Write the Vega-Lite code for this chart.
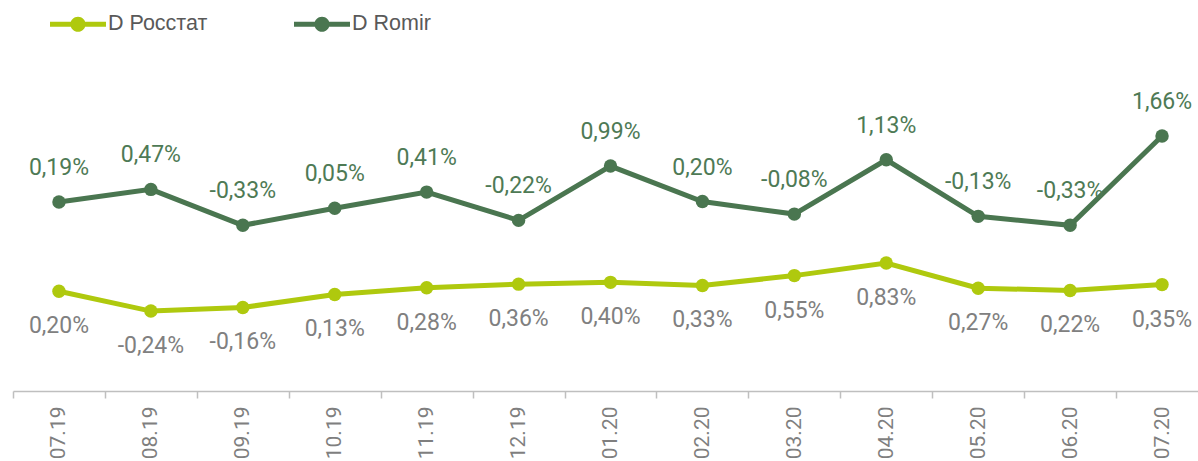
{
  "$schema": "https://vega.github.io/schema/vega-lite/v6.json",
  "width": 1195,
  "height": 391,
  "padding": {"left": 13, "top": 0, "right": 0, "bottom": 70},
  "autosize": {"type": "none"},
  "background": "white",
  "config": {
    "view": {"stroke": null},
    "locale": {"number": {"decimal": ",", "thousands": " ", "grouping": [3], "currency": ["", ""], "minus": "-"}},
    "font": "Roboto"
  },
  "data": {
    "values": [
      {"m": "07.19", "s": "D Росстат", "v": 0.0020},
      {"m": "08.19", "s": "D Росстат", "v": -0.0024},
      {"m": "09.19", "s": "D Росстат", "v": -0.0016},
      {"m": "10.19", "s": "D Росстат", "v": 0.0013},
      {"m": "11.19", "s": "D Росстат", "v": 0.0028},
      {"m": "12.19", "s": "D Росстат", "v": 0.0036},
      {"m": "01.20", "s": "D Росстат", "v": 0.0040},
      {"m": "02.20", "s": "D Росстат", "v": 0.0033},
      {"m": "03.20", "s": "D Росстат", "v": 0.0055},
      {"m": "04.20", "s": "D Росстат", "v": 0.0083},
      {"m": "05.20", "s": "D Росстат", "v": 0.0027},
      {"m": "06.20", "s": "D Росстат", "v": 0.0022},
      {"m": "07.20", "s": "D Росстат", "v": 0.0035},
      {"m": "07.19", "s": "D Romir", "v": 0.0019},
      {"m": "08.19", "s": "D Romir", "v": 0.0047},
      {"m": "09.19", "s": "D Romir", "v": -0.0033},
      {"m": "10.19", "s": "D Romir", "v": 0.0005},
      {"m": "11.19", "s": "D Romir", "v": 0.0041},
      {"m": "12.19", "s": "D Romir", "v": -0.0022},
      {"m": "01.20", "s": "D Romir", "v": 0.0099},
      {"m": "02.20", "s": "D Romir", "v": 0.0020},
      {"m": "03.20", "s": "D Romir", "v": -0.0008},
      {"m": "04.20", "s": "D Romir", "v": 0.0113},
      {"m": "05.20", "s": "D Romir", "v": -0.0013},
      {"m": "06.20", "s": "D Romir", "v": -0.0033},
      {"m": "07.20", "s": "D Romir", "v": 0.0166}
    ]
  },
  "encoding": {
    "x": {
      "field": "m", "type": "nominal", "sort": null, "title": null,
      "scale": {"paddingInner": 0, "paddingOuter": 0},
      "axis": {
        "labelAngle": -90, "tickBand": "extent", "tickSize": 7, "labelPadding": 8,
        "domainColor": "#bfbfbf", "tickColor": "#bfbfbf", "domainWidth": 1.5, "tickWidth": 1.5,
        "labelColor": "#7f7f7f", "labelFontSize": 21, "labelFont": "Roboto"
      }
    },
    "color": {
      "field": "s", "type": "nominal", "title": null,
      "scale": {"domain": ["D Росстат", "D Romir"], "range": ["#afc90e", "#4a7650"]},
      "legend": {
        "orient": "none", "legendX": 37, "legendY": -4, "direction": "horizontal",
        "symbolType": "M-1,-0.09H1V0.09H-1Z M-0.27,0A0.27,0.27 0 1,1 0.27,0A0.27,0.27 0 1,1 -0.27,0Z",
        "symbolSize": 3136, "symbolStrokeWidth": 0, "symbolOpacity": 1,
        "labelFont": "Liberation Sans", "labelFontSize": 21.5, "labelColor": "#595959",
        "labelOffset": 2, "columnPadding": 86,
        "encode": {"symbols": {"update": {"fill": {"scale": "color", "field": "value"}, "strokeWidth": {"value": 0}}}}
      }
    }
  },
  "layer": [
    {
      "transform": [{"filter": "datum.s === 'D Росстат'"}],
      "encoding": {
        "y": {"field": "v", "type": "quantitative", "axis": null, "scale": {"domain": [-0.0202, 0.06688], "nice": false, "zero": false}}
      },
      "layer": [
        {"mark": {"type": "line", "strokeWidth": 5}},
        {"mark": {"type": "point", "filled": true, "size": 180, "opacity": 1}},
        {"mark": {"type": "text", "dy": 35, "fontSize": 23, "font": "Roboto", "baseline": "middle"},
         "encoding": {"text": {"field": "v", "type": "quantitative", "format": ".2%"}, "color": {"value": "#808080"}}}
      ]
    },
    {
      "transform": [{"filter": "datum.s === 'D Romir'"}],
      "encoding": {
        "y": {"field": "v", "type": "quantitative", "axis": null, "scale": {"domain": [-0.0402, 0.04688], "nice": false, "zero": false}}
      },
      "layer": [
        {"mark": {"type": "line", "strokeWidth": 5}},
        {"mark": {"type": "point", "filled": true, "size": 180, "opacity": 1}},
        {"mark": {"type": "text", "dy": -34, "fontSize": 23, "font": "Roboto", "baseline": "middle"},
         "encoding": {"text": {"field": "v", "type": "quantitative", "format": ".2%"}, "color": {"value": "#4e7a55"}}}
      ]
    }
  ],
  "resolve": {"scale": {"y": "independent"}}
}
